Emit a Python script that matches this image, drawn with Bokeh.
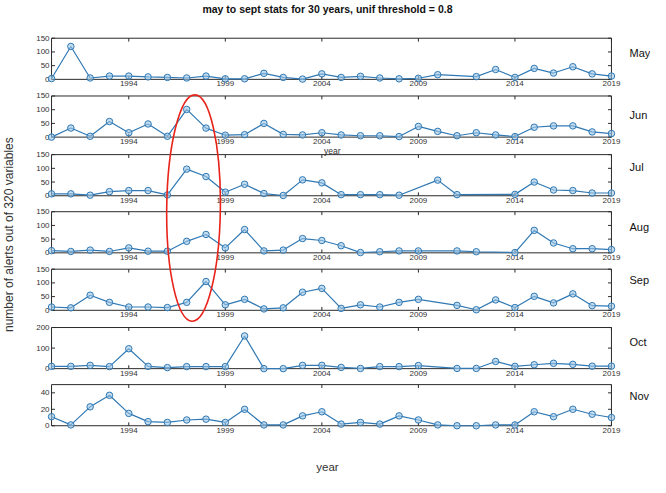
from bokeh.plotting import figure
from bokeh.models import Range1d, ColumnDataSource
from bokeh.core.properties import value
from bokeh.embed import file_html
from bokeh.resources import INLINE

# ---------------- data ----------------
years = list(range(1990, 2020))
months = ["May", "Jun", "Jul", "Aug", "Sep", "Oct", "Nov"]

may = [3, 120, 5, 12, 12, 9, 7, 5, 12, 2, 2, 22, 7, 1, 20, 7, 11, 5, 2, 4,
       17, None, 10, 36, 7, 40, 23, 46, 20, 12]
jun = [0, 33, 3, 57, 16, 48, 3, 101, 33, 7, 9, 50, 10, 8, 16, 8, 5, 5, 2, 39,
       21, 5, 16, 8, 2, 36, 41, 41, 19, 13]
jul = [7, 7, 2, 15, 19, 19, 3, 97, 70, 13, 42, 8, 1, 58, 47, 4, 4, 4, 2, None,
       57, 4, None, None, 5, 50, 21, 19, 10, 10]
aug = [8, 5, 10, 5, 18, 6, 6, 42, 67, 18, 85, 7, 10, 52, 45, 26, 1, 4, 7, 7,
       None, 7, 4, None, 1, 82, 36, 15, 15, 12]
sep = [12, 9, 55, 29, 12, 12, 10, 29, 105, 20, 40, 5, 9, 66, 80, 7, 20, 12, 29, 40,
       None, 18, 2, 38, 10, 51, 27, 60, 17, 15]
oct_ = [11, 11, 16, 10, 97, 11, 5, 10, 10, 10, 159, 0, 0, 16, 16, 6, 1, 10, 10, 15,
        None, 1, 1, 35, 11, 19, 26, 21, 12, 12]
nov = [11, 1, 23, 37, 15, 5, 4, 7, 8, 4, 20, 1, 1, 12, 17, 2, 4, 2, 12, 7,
       1, 0, 0, 1, 1, 17, 11, 20, 14, 10]

series = [may, jun, jul, aug, sep, oct_, nov]
y_max = [150, 150, 150, 150, 150, 200, 50]
y_ticks = [[0, 50, 100, 150]] * 5 + [[0, 100, 200], [0, 20, 40]]
x_ticks = [1994, 1999, 2004, 2009, 2014, 2019]
x_start, x_end = 1990, 2019

title_text = "may to sept stats for 30 years, unif threshold = 0.8"
y_label = "number of alerts out of 320 variables"
x_label = "year"

# ---------------- layout ----------------
# layout positions are given in a 666 x 493 design space, scaled onto the canvas
W, H = 650, 477
DW, DH = 666, 493
panel_left, panel_right = 52.3, 626.0
panel_tops = [39.0, 98.7, 159.3, 218.3, 277.7, 338.0, 397.0]
panel_h = 42.5
label_dy = [15, 20, 12.5, 16, 11.5, 14.5, 12]
tick_len = 3.5

LINE = "#3079b4"
FILL = "#9cc6e6"
AX = "#2a2a2a"
TXT = "#333333"
FONT = value("Liberation Sans")

ppy = (panel_right - panel_left) / (x_end - x_start)
xr = Range1d(x_start - panel_left / ppy, x_end + (DW - panel_right) / ppy)

p = figure(width=W, height=H, output_backend="svg", toolbar_location=None,
           x_range=xr, y_range=Range1d(0, 1), min_border=0,
           x_axis_type=None, y_axis_type=None)
p.outline_line_color = None
p.grid.visible = False
p.background_fill_color = "white"
p.border_fill_color = "white"

p.extra_x_ranges = {"px": Range1d(0, DW)}
p.extra_y_ranges = {"py": Range1d(DH, 0)}

for i, (name, vals, ymax, yt) in enumerate(zip(months, series, y_max, y_ticks)):
    top = panel_tops[i]
    bot = top + panel_h
    rn = "m%d" % i
    s = ymax / (bot - top)  # data units per design px
    p.extra_y_ranges[rn] = Range1d((bot - DH) * s, bot * s)
    tl_y = tick_len * s
    tl_x = tick_len / ppy

    p.quad(left=[x_start], right=[x_end], bottom=[0], top=[ymax], y_range_name=rn,
           fill_color=None, line_color=AX, line_width=1)
    p.segment(x0=x_ticks, y0=[0] * len(x_ticks), x1=x_ticks, y1=[tl_y] * len(x_ticks),
              y_range_name=rn, line_color=AX, line_width=1)
    p.segment(x0=x_ticks, y0=[ymax] * len(x_ticks), x1=x_ticks, y1=[ymax - tl_y] * len(x_ticks),
              y_range_name=rn, line_color=AX, line_width=1)
    p.segment(x0=[x_start] * len(yt), y0=yt, x1=[x_start + tl_x] * len(yt), y1=yt,
              y_range_name=rn, line_color=AX, line_width=1)
    p.segment(x0=[x_end] * len(yt), y0=yt, x1=[x_end - tl_x] * len(yt), y1=yt,
              y_range_name=rn, line_color=AX, line_width=1)
    p.text(x=[x_start] * len(yt), y=yt, text=[str(v) for v in yt], y_range_name=rn,
           x_offset=-2, text_align="right", text_baseline="middle",
           text_font=FONT, text_font_size="8px", text_color=TXT)
    p.text(x=x_ticks, y=[0] * len(x_ticks), text=[str(v) for v in x_ticks], y_range_name=rn,
           y_offset=2, text_align="center", text_baseline="top",
           text_font=FONT, text_font_size="8px", text_color=TXT)

    xs = [yr for yr, v in zip(years, vals) if v is not None]
    ys = [v for v in vals if v is not None]
    src = ColumnDataSource(dict(x=xs, y=ys))
    p.line("x", "y", source=src, y_range_name=rn, line_color=LINE, line_width=1.2)
    p.scatter("x", "y", source=src, y_range_name=rn, size=6.5, marker="circle",
              fill_color=FILL, fill_alpha=0.6, line_color=LINE, line_width=1)

    p.text(x=[644.5], y=[top + label_dy[i]], text=[name], x_range_name="px", y_range_name="py",
           text_align="left", text_baseline="middle",
           text_font=FONT, text_font_size="11px", text_color="#111111")

p.text(x=[335], y=[3], text=[title_text], x_range_name="px", y_range_name="py",
       text_align="center", text_baseline="top", text_font=FONT, text_font_size="10.5px",
       text_font_style="bold", text_color="#111111")
p.text(x=[1.5], y=[242], text=[y_label], x_range_name="px", y_range_name="py",
       angle=1.5707963, text_align="center", text_baseline="top",
       text_font=FONT, text_font_size="12px", text_color=TXT)
p.text(x=[335], y=[482], text=[x_label], x_range_name="px", y_range_name="py",
       text_align="center", text_baseline="middle", text_font=FONT, text_font_size="11.5px",
       text_color=TXT)
p.text(x=[340], y=[156], text=[x_label], x_range_name="px", y_range_name="py",
       text_align="center", text_baseline="middle", text_font=FONT, text_font_size="8.5px",
       text_color=TXT)

p.ellipse(x=[197.8], y=[214.5], width=[55], height=[234], angle=-0.012,
          x_range_name="px", y_range_name="py",
          fill_color=None, line_color="#e8231a", line_width=1.6)

open("out.html", "w").write(file_html(p, INLINE))
